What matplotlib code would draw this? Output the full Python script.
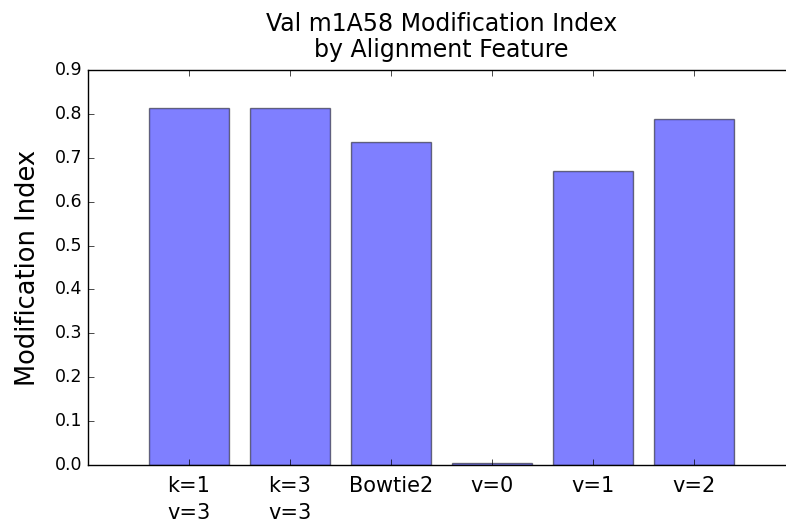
import numpy as np
import matplotlib
matplotlib.use("Agg")
import matplotlib.pyplot as plt

plt.style.use("classic")

features = ["k=1\nv=3", "k=3\nv=3", "Bowtie2", "v=0", "v=1", "v=2"]
mod_index = [0.813, 0.813, 0.736, 0.005, 0.670, 0.788]

fig = plt.figure(figsize=(7.86, 5.23), dpi=100, facecolor="white")
ax = fig.add_axes([88 / 786, 1 - 465 / 523, 707 / 786, 395 / 523])

x = np.arange(len(features))
ax.bar(x, mod_index, width=0.8, align="center", color="b", alpha=0.5)

ax.set_xlim(-1, 6)
ax.set_ylim(0, 0.9)
ax.set_xticks(x)
ax.set_xticklabels(features, fontsize=15, linespacing=1.4)
ax.tick_params(axis="x", pad=8)
ax.set_yticks(np.arange(0, 0.91, 0.1))
ax.tick_params(axis="y", labelsize=12.5)
ax.set_ylabel("Modification Index", fontsize=18.5, labelpad=10)
ax.set_title("Val m1A58 Modification Index\nby Alignment Feature",
             fontsize=17, linespacing=1.15, pad=9)

fig.savefig("out.png", dpi=100, facecolor="white")
